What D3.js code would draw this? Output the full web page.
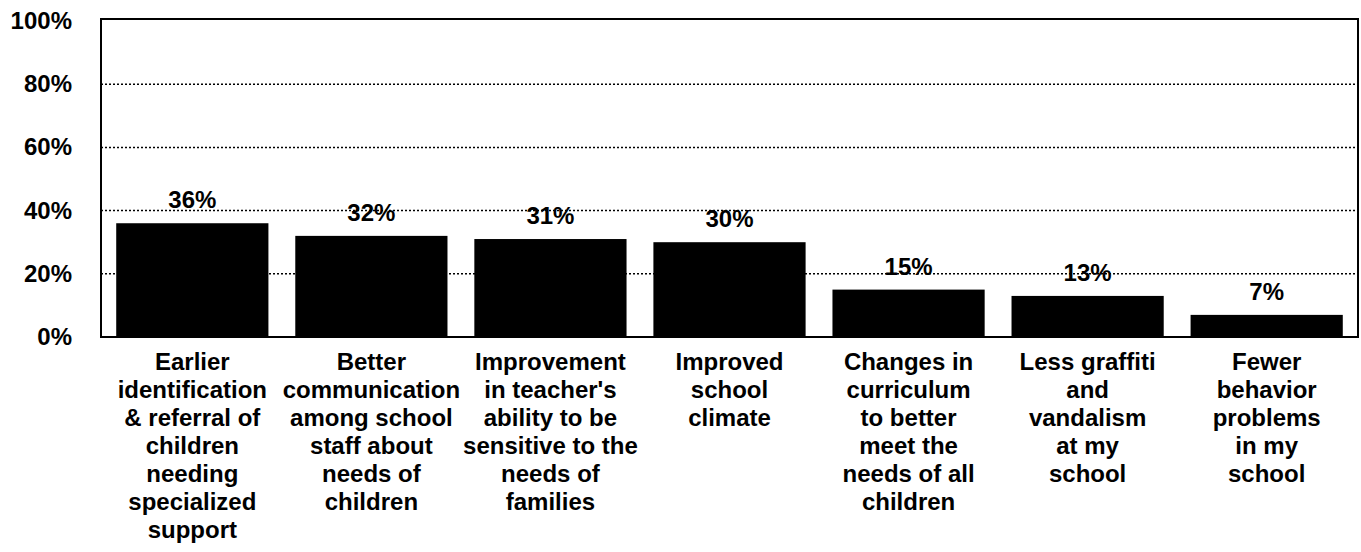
<!DOCTYPE html>
<html lang="en">
  <head>
    <meta charset="utf-8">
    <title>Perceived outcomes</title>
    <script src="https://d3js.org/d3.v7.min.js"></script>
    <style type="text/css">
      body { margin: 0; background: #fff; }
      text { font-family: "Liberation Sans", Arial, sans-serif; font-weight: bold; fill: #000; }
      .grid line { stroke: #000; stroke-width: 1.5px; stroke-dasharray: 2,2; }
    </style>
  </head>
  <body>
    <script>
      var w = 1361;
      var h = 552;

      var categories = [
        ["Earlier", "identification", "& referral of", "children", "needing", "specialized", "support"],
        ["Better", "communication", "among school", "staff about", "needs of", "children"],
        ["Improvement", "in teacher's", "ability to be", "sensitive to the", "needs of", "families"],
        ["Improved", "school", "climate"],
        ["Changes in", "curriculum", "to better", "meet the", "needs of all", "children"],
        ["Less graffiti", "and", "vandalism", "at my", "school"],
        ["Fewer", "behavior", "problems", "in my", "school"]
      ];
      var values = [36, 32, 31, 30, 15, 13, 7];
      var yTicks = [0, 20, 40, 60, 80, 100];

      var plotL = 101, plotR = 1358, plotT = 21, plotB = 337;

      var svg = d3.select("body").append("svg")
          .attr("width", w).attr("height", h);

      var xScale = d3.scaleBand()
        .domain(d3.range(values.length))
        .range([plotL, plotR])
        .paddingInner(0.15)
        .paddingOuter(0.085);

      var yScale = d3.scaleLinear()
        .domain([0, 100])
        .range([plotB, plotT]);

      // dotted gridlines
      svg.append("g").attr("class", "grid")
        .selectAll("line")
        .data(yTicks.filter(d => d > 0 && d < 100))
        .join("line")
        .attr("x1", plotL).attr("x2", plotR)
        .attr("y1", d => yScale(d)).attr("y2", d => yScale(d));

      // bars
      svg.append("g").selectAll("rect")
        .data(values)
        .join("rect")
        .attr("x", (d, i) => xScale(i))
        .attr("width", xScale.bandwidth())
        .attr("y", d => yScale(d))
        .attr("height", d => yScale(0) - yScale(d))
        .attr("fill", "#000");

      // frame
      svg.append("rect")
        .attr("x", plotL).attr("y", yScale(100) - 2)
        .attr("width", plotR - plotL).attr("height", plotB - yScale(100) + 2)
        .attr("fill", "none").attr("stroke", "#000").attr("stroke-width", 2);

      // value labels
      svg.append("g").selectAll("text")
        .data(values)
        .join("text")
        .attr("x", (d, i) => xScale(i) + xScale.bandwidth() / 2)
        .attr("y", d => yScale(d) - 15)
        .attr("text-anchor", "middle")
        .style("font-size", "24px")
        .text(d => d + "%");

      // y axis labels
      svg.append("g").selectAll("text")
        .data(yTicks)
        .join("text")
        .attr("x", 72)
        .attr("y", d => yScale(d) + 8)
        .attr("text-anchor", "end")
        .style("font-size", "24px")
        .text(d => d + "%");

      // category labels
      var cat = svg.append("g").selectAll("text")
        .data(categories)
        .join("text")
        .attr("text-anchor", "middle")
        .style("font-size", "24px");

      cat.selectAll("tspan")
        .data((d, i) => d.map(s => ({ s: s, i: i })))
        .join("tspan")
        .attr("x", d => xScale(d.i) + xScale.bandwidth() / 2)
        .attr("y", (d, j) => 370 + j * 28)
        .text(d => d.s);
    </script>
  </body>
</html>
